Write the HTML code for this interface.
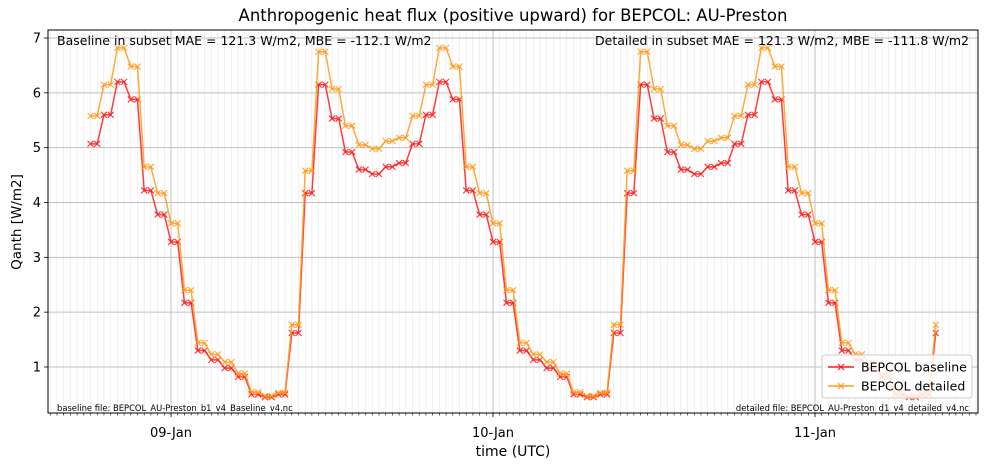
<!DOCTYPE html>
<html><head><meta charset="utf-8"><style>
body{margin:0;background:#fff;font-family:"Liberation Sans","DejaVu Sans",sans-serif}
svg text{font-family:"DejaVu Sans","Liberation Sans",sans-serif}
</style></head><body>
<svg id="chart" width="988" height="468" xmlns="http://www.w3.org/2000/svg"></svg>
<script>
// hourly values from 08-Jan 18:00 UTC to 11-Jan 09:00 UTC (each hour shown at :00 and :30)
const startHour = -6; // hours relative to 09-Jan 00:00
const baseline = [5.07,5.6,6.2,5.88,4.22,3.78,3.28,2.17,1.3,1.13,0.98,0.82,0.5,0.45,0.5,1.62,4.17,6.15,5.53,4.92,4.6,4.52,4.65,4.72,
5.07,5.6,6.2,5.88,4.22,3.78,3.28,2.17,1.3,1.13,0.98,0.82,0.5,0.45,0.5,1.62,4.17,6.15,5.53,4.92,4.6,4.52,4.65,4.72,
5.07,5.6,6.2,5.88,4.22,3.78,3.28,2.17,1.3,1.13,0.98,0.82,0.5,0.45,0.5,1.62];
const detailed = [5.58,6.15,6.82,6.48,4.65,4.17,3.62,2.4,1.44,1.23,1.09,0.88,0.54,0.47,0.53,1.77,4.58,6.75,6.07,5.4,5.05,4.98,5.12,5.18,
5.58,6.15,6.82,6.48,4.65,4.17,3.62,2.4,1.44,1.23,1.09,0.88,0.54,0.47,0.53,1.77,4.58,6.75,6.07,5.4,5.05,4.98,5.12,5.18,
5.58,6.15,6.82,6.48,4.65,4.17,3.62,2.4,1.44,1.23,1.09,0.88,0.54,0.47,0.53,1.77];
const yTicks = [1,2,3,4,5,6,7];
const xTickLabels = ["09-Jan","10-Jan","11-Jan"];
const xTickDays = [0,1,2];

const svg=document.getElementById('chart');
const NS='http://www.w3.org/2000/svg';
const L=48,R=978,T=30,B=413;
const xMin=-9.17,xMax=60.15,yMin=0.161,yMax=7.146;
const X=h=>L+(h-xMin)/(xMax-xMin)*(R-L);
const Y=v=>B-(v-yMin)/(yMax-yMin)*(B-T);
function mk(tag,attrs,parent){const e=document.createElementNS(NS,tag);for(const k in attrs)e.setAttribute(k,attrs[k]);(parent||svg).appendChild(e);return e;}

const grid=mk('g',{});


for(let h=Math.ceil(xMin*2)/2;h<=xMax;h+=0.5){
  mk('line',{x1:X(h),x2:X(h),y1:T,y2:B,stroke:'#e6e6e6','stroke-width':0.6},grid);
  mk('line',{x1:X(h),x2:X(h),y1:B,y2:B+2.5,stroke:'#000','stroke-width':0.6},grid);
}
yTicks.forEach(v=>{
  mk('line',{x1:L,x2:R,y1:Y(v),y2:Y(v),stroke:'#c0c0c0','stroke-width':1},grid);
  mk('line',{x1:L-4,x2:L,y1:Y(v),y2:Y(v),stroke:'#000','stroke-width':0.8},grid);
  const t=mk('text',{x:L-7,y:Y(v)+4.5,'text-anchor':'end','font-size':13},grid);t.textContent=v;
  
  
});
xTickDays.forEach((d,i)=>{
  const x=X(d*24);
  mk('line',{x1:x,x2:x,y1:T,y2:B,stroke:'#c0c0c0','stroke-width':1},grid);
  mk('line',{x1:x,x2:x,y1:B,y2:B+4,stroke:'#000','stroke-width':0.8},grid);
  const t=mk('text',{x:x,y:B+24,'text-anchor':'middle','font-size':13},grid);t.textContent=xTickLabels[i];
  
  
});

function series(vals,color,name){
  const g=mk('g',{});
  
  
  const pts=[];
  vals.forEach((v,i)=>{
    const h=startHour+i;
    pts.push([X(h),Y(v)]);
    if(i<vals.length-1)pts.push([X(h+0.5),Y(v)]);
  });
  mk('polyline',{points:pts.map(p=>p.join(',')).join(' '),fill:'none',stroke:color,'stroke-width':1.5,'stroke-opacity':0.85},g);
  pts.forEach(p=>{
    mk('path',{d:`M${p[0]-3},${p[1]-3}L${p[0]+3},${p[1]+3}M${p[0]-3},${p[1]+3}L${p[0]+3},${p[1]-3}`,stroke:color,'stroke-width':1.2,'stroke-opacity':0.85},g);
  });
}
series(baseline,'#ff1a1a','series-baseline');
series(detailed,'#ff9a1a','series-detailed');

mk('rect',{x:L,y:T,width:R-L,height:B-T,fill:'none',stroke:'#000','stroke-width':1});
function txt(x,y,s,size,anchor,name,extra){const t=mk('text',Object.assign({x:x,y:y,'font-size':size,'text-anchor':anchor},extra||{}));t.textContent=s;
 
 return t;}
txt(513,21,'Anthropogenic heat flux (positive upward) for BEPCOL: AU-Preston',16.5,'middle','chart-title');
txt(513,456,'time (UTC)',14,'middle','x-axis-title');
txt(21,222,'Qanth [W/m2]',13.5,'middle','y-axis-title',{transform:'rotate(-90 21 222)'});
txt(57,45,'Baseline in subset MAE = 121.3 W/m2, MBE = -112.1 W/m2',12.5,'start','baseline-stats');
txt(969,45,'Detailed in subset MAE = 121.3 W/m2, MBE = -111.8 W/m2',12.5,'end','detailed-stats');
txt(57,411,'baseline file: BEPCOL_AU-Preston_b1_v4_Baseline_v4.nc',8.4,'start','baseline-file-note');
txt(969,411,'detailed file: BEPCOL_AU-Preston_d1_v4_detailed_v4.nc',8.4,'end','detailed-file-note');

const lg=mk('g',{});


mk('rect',{x:822,y:355,width:150,height:43,rx:3,fill:'#fff','fill-opacity':0.85,stroke:'#ccc'},lg);
[['BEPCOL baseline','#ff1a1a',367],['BEPCOL detailed','#ff9a1a',386]].forEach(([s,c,y])=>{
  mk('line',{x1:828,x2:854,y1:y,y2:y,stroke:c,'stroke-width':1.5},lg);
  mk('path',{d:`M838,${y-3}L844,${y+3}M838,${y+3}L844,${y-3}`,stroke:c,'stroke-width':1.2},lg);
  const t=mk('text',{x:861,y:y+4.5,'font-size':12.5},lg);t.textContent=s;
  
  
});
</script>
</body></html>
